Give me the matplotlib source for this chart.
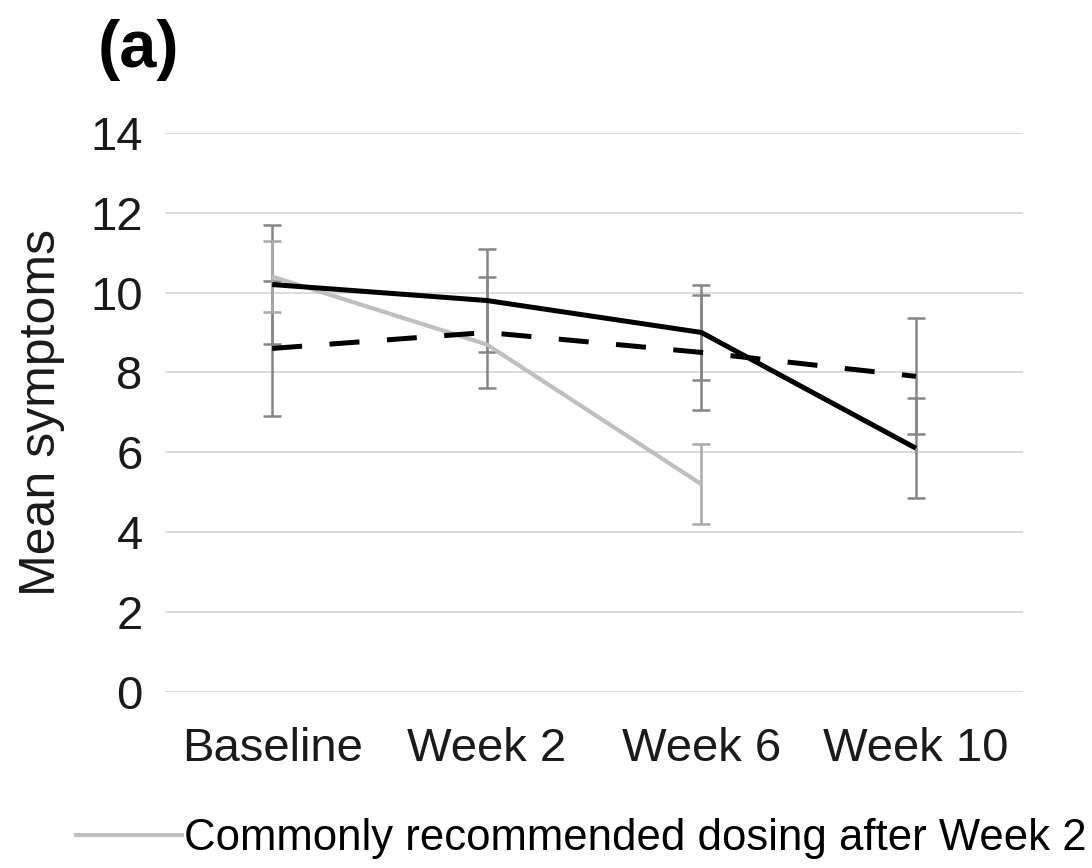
import numpy as np
import matplotlib
matplotlib.use("Agg")
import matplotlib.pyplot as plt

plt.rcParams['font.family'] = ['Liberation Sans', 'DejaVu Sans']

categories = ['Baseline', 'Week 2', 'Week 6', 'Week 10']
common_dosing = [10.4, 8.7, 5.2, np.nan]
common_err = [0.9, np.nan, 1.0, np.nan]
solid_series = [10.2, 9.8, 9.0, 6.1]
solid_err = [1.5, 1.3, 1.2, 1.25]
dashed_series = [8.6, 9.0, 8.5, 7.9]
dashed_err = [1.7, 1.4, 1.45, 1.45]
legend_label = 'Commonly recommended dosing after Week 2'

fig = plt.figure(figsize=(10.92, 8.68), dpi=100)
ax = fig.add_axes([0.151, 0.203, 0.786, 0.644])

x = np.arange(len(categories))

def draw_err(vals, errs, color):
    v = np.array(vals, dtype=float)
    e = np.array(errs, dtype=float)
    m = ~np.isnan(v) & ~np.isnan(e)
    ax.errorbar(x[m], v[m], yerr=e[m], fmt='none', ecolor=color,
                elinewidth=1.8, capsize=6.5, capthick=1.8, zorder=2)

draw_err(solid_series, solid_err, '#858585')
draw_err(dashed_series, dashed_err, '#858585')
draw_err(common_dosing, common_err, '#a8a8a8')

cd = np.array(common_dosing, dtype=float)
mcd = ~np.isnan(cd)
gray_line, = ax.plot(x[mcd], cd[mcd], color='#bfbfbf', lw=3.0, zorder=3,
                     solid_capstyle='butt')
ax.plot(x, solid_series, color='black', lw=3.6, zorder=4, solid_capstyle='butt')
ax.plot(x, dashed_series, color='black', lw=3.6, zorder=4,
        dashes=(6, 5.5), dash_capstyle='butt')

ax.set_xlim(-0.5, 3.5)
ax.set_ylim(0, 14)
ax.set_yticks(np.arange(0, 15, 2))
ax.set_xticks(x)
ax.set_xticklabels(categories)
ax.yaxis.grid(True, color='#d9d9d9', lw=1.3)
ax.set_axisbelow(True)
for s in ax.spines.values():
    s.set_visible(False)
ax.tick_params(axis='both', length=0, labelsize=34, colors='#1a1a1a')
ax.tick_params(axis='x', pad=25)
ax.tick_params(axis='y', pad=16)
ax.set_ylabel('Mean symptoms', fontsize=36, color='#1a1a1a', labelpad=18)

fig.text(0.089, 0.942, '(a)', fontsize=48, fontweight='bold', ha='left', va='center')

fig.legend(handles=[gray_line], labels=[legend_label], loc='center left',
           bbox_to_anchor=(0.052, 0.034), frameon=False, fontsize=31.5,
           handlelength=2.5, handletextpad=0.0, borderaxespad=0)

fig.savefig('out.png', dpi=100, facecolor='white')
